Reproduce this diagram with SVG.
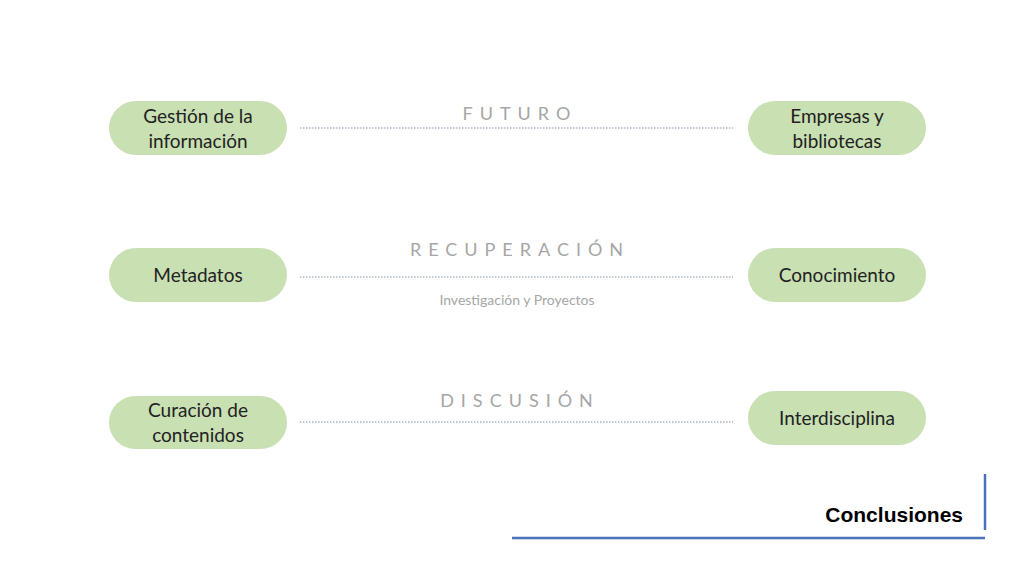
<svg xmlns="http://www.w3.org/2000/svg" width="1024" height="576" viewBox="0 0 1024 576">
<style>
.pill{fill:#c9e0b3}
.nt{font-family:Lato,"Open Sans",sans-serif;font-size:19px;fill:#222;text-anchor:middle}
.ln{stroke:#7f93a8;stroke-width:1;stroke-dasharray:1.5 1.5}
.hd{font-family:Lato,"Open Sans",sans-serif;font-size:18px;fill:#a6a6a6;text-anchor:middle;letter-spacing:7px}
</style>
<rect width="1024" height="576" fill="#fff"/>
<g id="connectors">
<line class="ln" x1="300" y1="128" x2="733" y2="128"/>
<line class="ln" x1="300" y1="277" x2="733" y2="277"/>
<line class="ln" x1="300" y1="422" x2="733" y2="422"/>
</g>
<text class="hd" x="520" y="120">FUTURO</text>
<text class="hd" x="520" y="256">RECUPERACIÓN</text>
<text class="hd" x="520" y="407">DISCUSIÓN</text>
<text x="517" y="305" font-family="Lato,'Open Sans',sans-serif" font-size="14" fill="#a6a6a6" text-anchor="middle">Investigación y Proyectos</text>
<g id="n1"><rect class="pill" x="109" y="101" width="178" height="54" rx="27"/><text class="nt" x="198" y="123">Gestión de la</text><text class="nt" x="198" y="148">información</text></g>
<g id="n2"><rect class="pill" x="748" y="101" width="178" height="54" rx="27"/><text class="nt" x="837" y="123">Empresas y</text><text class="nt" x="837" y="148">bibliotecas</text></g>
<g id="n3"><rect class="pill" x="109" y="248" width="178" height="54" rx="27"/><text class="nt" x="198" y="282">Metadatos</text></g>
<g id="n4"><rect class="pill" x="748" y="248" width="178" height="54" rx="27"/><text class="nt" x="837" y="282">Conocimiento</text></g>
<g id="n5"><rect class="pill" x="109" y="396" width="178" height="53" rx="26.5"/><text class="nt" x="198" y="417">Curación de</text><text class="nt" x="198" y="442">contenidos</text></g>
<g id="n6"><rect class="pill" x="748" y="391" width="178" height="54" rx="27"/><text class="nt" x="837" y="425">Interdisciplina</text></g>
<line x1="512" y1="538" x2="985" y2="538" stroke="#4a72b8" stroke-width="2.5"/>
<line x1="985" y1="474" x2="985" y2="530" stroke="#4a72b8" stroke-width="2.5"/>
<text x="963" y="522" font-family="'Liberation Sans',Arial,sans-serif" font-weight="bold" font-size="21" fill="#000" text-anchor="end">Conclusiones</text>
</svg>
